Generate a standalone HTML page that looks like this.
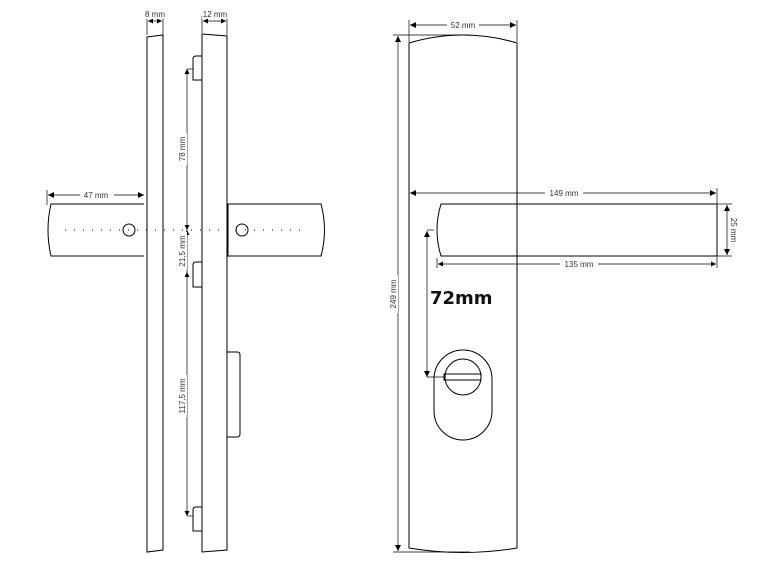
<!DOCTYPE html>
<html><head><style>body{margin:0;background:#fff}svg{display:block}</style></head><body>
<svg width="765" height="573" viewBox="0 0 765 573" xmlns="http://www.w3.org/2000/svg" font-family="Liberation Sans, sans-serif">
<defs>
<marker id="a" viewBox="0 0 10 10" refX="10" refY="5" markerWidth="11" markerHeight="6" orient="auto-start-reverse" markerUnits="userSpaceOnUse"><path d="M0,0L10,5L0,10z" fill="#000"/></marker>
<marker id="s" viewBox="0 0 10 10" refX="10" refY="5" markerWidth="7" markerHeight="5" orient="auto-start-reverse" markerUnits="userSpaceOnUse"><path d="M0,0L10,5L0,10z" fill="#000"/></marker>
</defs>
<g fill="none" stroke="#000" stroke-width="1">
<path d="M147,37 L163,35 L163,550 L147,552 Z"/>
<path d="M202,34 L227,36 L227,550 L202,552 Z"/>
<path d="M202,56 L196,56 Q193,56 193,59 L193,80 L202,80"/>
<path d="M202,262 L196,262 Q193,262 193,265 L193,287 L202,287"/>
<path d="M202,507 L196,507 Q193,507 193,510 L193,531 L202,531"/>
<path d="M227,352 L237,352 Q240,352 240,355 L240,434 Q240,437 237,437 L227,437"/>
<path d="M144,204 L51,204 Q45,230 51,256 L144,256"/>
<path d="M228,204 L321,204 Q328,230 321,256 L228,256 Z"/>
<circle cx="129" cy="230" r="6"/>
<circle cx="242" cy="230" r="6"/>
<line x1="65" y1="230" x2="305" y2="230" stroke-dasharray="1,8"/>
<line x1="147" y1="16" x2="147" y2="35" stroke-width=".7"/>
<line x1="163" y1="16" x2="163" y2="35" stroke-width=".7"/>
<line x1="148" y1="21" x2="162" y2="21" marker-start="url(#s)" marker-end="url(#s)" stroke-width=".7"/>
<line x1="202" y1="16" x2="202" y2="33" stroke-width=".7"/>
<line x1="227" y1="16" x2="227" y2="35" stroke-width=".7"/>
<line x1="203" y1="21" x2="226" y2="21" marker-start="url(#s)" marker-end="url(#s)" stroke-width=".7"/>
<line x1="47" y1="190" x2="47" y2="205" stroke-width=".7"/>
<line x1="48" y1="195" x2="144" y2="195" marker-start="url(#a)" marker-end="url(#a)" stroke-width=".7"/>
<line x1="187" y1="69" x2="187" y2="230" marker-start="url(#s)" marker-end="url(#s)" stroke-width=".7"/>
<line x1="187" y1="69" x2="193" y2="69" stroke-width=".7"/>
<line x1="187" y1="230" x2="187" y2="272" marker-start="url(#s)" stroke-width=".7"/>
<line x1="187" y1="272" x2="187" y2="516" marker-start="url(#s)" marker-end="url(#s)" stroke-width=".7"/>
<line x1="187" y1="516" x2="193" y2="516" stroke-width=".7"/>
<path d="M409,548 L409,43 Q463,27 517,43 L517,548 Q463,557 409,548 Z"/>
<path d="M717,204 L441,204 Q433,230 441,256 L717,256 Z"/>
<rect x="434" y="350" width="58" height="90" rx="29" ry="29"/>
<circle cx="463" cy="377" r="18"/>
<rect x="444" y="374" width="37" height="6"/>
<line x1="409" y1="20" x2="409" y2="42" stroke-width=".7"/>
<line x1="517" y1="20" x2="517" y2="42" stroke-width=".7"/>
<line x1="410" y1="25" x2="516" y2="25" marker-start="url(#a)" marker-end="url(#a)" stroke-width=".7"/>
<line x1="393" y1="35" x2="470" y2="35" stroke-width=".7"/>
<line x1="393" y1="552" x2="470" y2="552" stroke-width=".7"/>
<line x1="398" y1="36" x2="398" y2="551" marker-start="url(#a)" marker-end="url(#a)" stroke-width=".7"/>
<line x1="717" y1="188" x2="717" y2="268" stroke-width=".7"/>
<line x1="410" y1="193" x2="716" y2="193" marker-start="url(#a)" marker-end="url(#a)" stroke-width=".7"/>
<line x1="437" y1="258" x2="437" y2="268" stroke-width=".7"/>
<line x1="438" y1="264" x2="716" y2="264" marker-start="url(#s)" marker-end="url(#s)" stroke-width=".7"/>
<line x1="717" y1="204" x2="732" y2="204" stroke-width=".7"/>
<line x1="717" y1="256" x2="732" y2="256" stroke-width=".7"/>
<line x1="727" y1="205" x2="727" y2="255" marker-start="url(#a)" marker-end="url(#a)" stroke-width=".7"/>
<line x1="427" y1="230" x2="434" y2="230" stroke-width=".7"/>
<line x1="427" y1="231" x2="427" y2="377" marker-start="url(#a)" marker-end="url(#a)" stroke-width=".7"/>
<line x1="427" y1="377" x2="445" y2="377" stroke-width=".7"/>
</g>
<g font-size="8" fill="#333">
<rect x="146" y="10" width="20" height="9" fill="#fff"/>
<text x="155" y="17" text-anchor="middle">8 mm</text>
<rect x="202" y="10" width="26" height="9" fill="#fff"/>
<text x="215" y="17" text-anchor="middle">12 mm</text>
<rect x="80" y="190" width="34" height="10" fill="#fff"/>
<text x="96" y="198" text-anchor="middle">47 mm</text>
<rect x="447" y="20" width="32" height="10" fill="#fff"/>
<text x="463" y="28" text-anchor="middle">52 mm</text>
<rect x="545" y="188" width="38" height="10" fill="#fff"/>
<text x="564" y="196" text-anchor="middle">149 mm</text>
<rect x="560" y="259" width="38" height="10" fill="#fff"/>
<text x="579" y="267" text-anchor="middle">135 mm</text>
<rect x="177" y="133" width="10" height="32" fill="#fff"/>
<text transform="translate(185,149) rotate(-90)" text-anchor="middle">78 mm</text>
<rect x="177" y="232" width="10" height="38" fill="#fff"/>
<text transform="translate(185,251) rotate(-90)" text-anchor="middle">21,5 mm</text>
<rect x="177" y="375" width="10" height="42" fill="#fff"/>
<text transform="translate(185,396) rotate(-90)" text-anchor="middle">117,5 mm</text>
<rect x="388" y="275" width="10" height="38" fill="#fff"/>
<text transform="translate(396,294) rotate(-90)" text-anchor="middle">249 mm</text>
<text transform="translate(731,230) rotate(90)" text-anchor="middle">25 mm</text>
</g>
<text x="430" y="304" font-size="18" font-weight="bold" fill="#111" font-family="DejaVu Sans, sans-serif">72mm</text>
</svg>
</body></html>
